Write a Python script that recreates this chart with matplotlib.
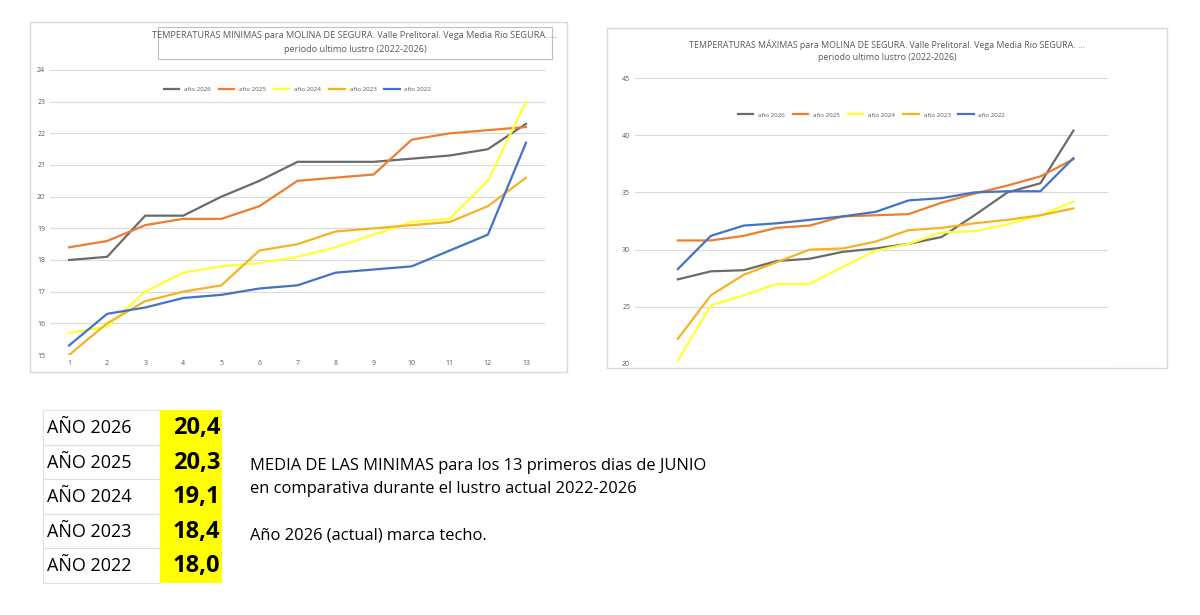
import matplotlib
matplotlib.use("Agg")
import matplotlib.pyplot as plt
from matplotlib.patches import Rectangle

plt.rcParams['font.family'] = ['Open Sans', 'DejaVu Sans']

days = list(range(1, 14))
series_names = ["año 2026", "año 2025", "año 2024", "año 2023", "año 2022"]
colors = ["#6b6b6b", "#ed7d31", "#ffff33", "#f5b324", "#4472c4"]

min_2026 = [18.0, 18.1, 19.4, 19.4, 20.0, 20.5, 21.1, 21.1, 21.1, 21.2, 21.3, 21.5, 22.3]
min_2025 = [18.4, 18.6, 19.1, 19.3, 19.3, 19.7, 20.5, 20.6, 20.7, 21.8, 22.0, 22.1, 22.2]
min_2024 = [15.7, 15.9, 17.0, 17.6, 17.8, 17.9, 18.1, 18.4, 18.8, 19.2, 19.3, 20.5, 23.0]
min_2023 = [15.0, 16.0, 16.7, 17.0, 17.2, 18.3, 18.5, 18.9, 19.0, 19.1, 19.2, 19.7, 20.6]
min_2022 = [15.3, 16.3, 16.5, 16.8, 16.9, 17.1, 17.2, 17.6, 17.7, 17.8, 18.3, 18.8, 21.7]

max_2026 = [27.4, 28.1, 28.2, 29.0, 29.2, 29.8, 30.1, 30.5, 31.1, 33.0, 35.0, 35.8, 40.4]
max_2025 = [30.8, 30.8, 31.2, 31.9, 32.1, 32.9, 33.0, 33.1, 34.1, 34.9, 35.6, 36.4, 37.9]
max_2024 = [20.3, 25.1, 26.0, 27.0, 27.0, 28.5, 29.9, 30.5, 31.5, 31.6, 32.2, 33.0, 34.2]
max_2023 = [22.2, 26.0, 27.8, 28.9, 30.0, 30.1, 30.7, 31.7, 31.9, 32.3, 32.6, 33.0, 33.6]
max_2022 = [28.3, 31.2, 32.1, 32.3, 32.6, 32.9, 33.3, 34.3, 34.5, 35.0, 35.1, 35.1, 38.0]

table_years = ["AÑO 2026", "AÑO 2025", "AÑO 2024", "AÑO 2023", "AÑO 2022"]
table_values = ["20,4", "20,3", "19,1", "18,4", "18,0"]

W, H = 1200, 615
fig = plt.figure(figsize=(12, 6.15), dpi=100)
fig.patch.set_facecolor("white")

def px_axes(x0, y0, x1, y1, **kw):
    return fig.add_axes([x0 / W, 1 - y1 / H, (x1 - x0) / W, (y1 - y0) / H], **kw)

bg = px_axes(0, 0, W, H)
bg.set_xlim(0, W); bg.set_ylim(H, 0); bg.axis("off")
bg.add_patch(Rectangle((30, 22), 537, 350, fill=False, ec="#d9d9d9", lw=1))
bg.add_patch(Rectangle((607, 28), 560, 340, fill=False, ec="#d9d9d9", lw=1))
bg.add_patch(Rectangle((158, 27), 394, 32, fc="white", ec="#bfbfbf", lw=0.8))

def style(ax, ylim, yticks):
    ax.set_ylim(*ylim)
    ax.set_yticks(yticks)
    ax.grid(axis="y", color="#d9d9d9", lw=0.8)
    for s in ax.spines.values():
        s.set_visible(False)
    ax.tick_params(length=0, labelsize=5, colors="#595959")
    ax.set_axisbelow(True)

axl = px_axes(50, 70, 545, 355)
for name, c, vals in zip(series_names, colors, [min_2026, min_2025, min_2024, min_2023, min_2022]):
    axl.plot(days, vals, color=c, lw=1.6, label=name)
style(axl, (15, 24), range(15, 25))
axl.set_xlim(0.5, 13.5)
axl.set_xticks(days)
axl.legend(loc="upper center", bbox_to_anchor=(0.5, 0.96), ncol=5, frameon=False,
           fontsize=4.5, handlelength=2.5, columnspacing=1.2, labelcolor="#595959")
fig.text(355 / W, 1 - 35 / H, "TEMPERATURAS MINIMAS para MOLINA DE SEGURA. Valle Prelitoral. Vega Media Rio SEGURA. ...",
         ha="center", va="center", fontsize=6.6, color="#595959")
fig.text(355 / W, 1 - 49 / H, "periodo ultimo lustro (2022-2026)", ha="center", va="center", fontsize=6.6, color="#595959")

axr = px_axes(635, 78, 1108, 364)
for name, c, vals in zip(series_names, colors, [max_2026, max_2025, max_2024, max_2023, max_2022]):
    axr.plot(days, vals, color=c, lw=1.6, label=name)
style(axr, (20, 45), range(20, 46, 5))
axr.set_xlim(-0.3, 14.05)
axr.set_xticks([])
axr.legend(loc="upper center", bbox_to_anchor=(0.5, 0.9), ncol=5, frameon=False,
           fontsize=4.5, handlelength=2.5, columnspacing=1.2, labelcolor="#595959")
fig.text(887 / W, 1 - 45 / H, "TEMPERATURAS MÁXIMAS para MOLINA DE SEGURA. Valle Prelitoral. Vega Media Rio SEGURA. ...",
         ha="center", va="center", fontsize=6.4, color="#595959")
fig.text(887 / W, 1 - 57 / H, "periodo ultimo lustro (2022-2026)", ha="center", va="center", fontsize=6.4, color="#595959")

top, rh = 410, 34.5
for i, (yr, v) in enumerate(zip(table_years, table_values)):
    y = top + i * rh
    bg.add_patch(Rectangle((43, y), 117, rh, fc="white", ec="#e0e0e0", lw=0.8))
    bg.add_patch(Rectangle((160, y), 62, rh, fc="#ffff00", ec="#ffff00", lw=0))
    bg.text(47, y + rh / 2 + 1, yr, fontsize=13, va="center", ha="left", color="black")
    bg.text(220, y + rh / 2 + 1, v, fontsize=17, fontweight="bold", va="center", ha="right",
            color="black", fontstretch="condensed")

bg.text(250, 466, "MEDIA DE LAS MINIMAS para los 13 primeros dias de JUNIO", fontsize=11.9, va="center")
bg.text(250, 489, "en comparativa durante el lustro actual 2022-2026", fontsize=11.9, va="center")
bg.text(250, 536, "Año 2026 (actual) marca techo.", fontsize=11.9, va="center")

fig.savefig("out.png", dpi=100, facecolor="white")
